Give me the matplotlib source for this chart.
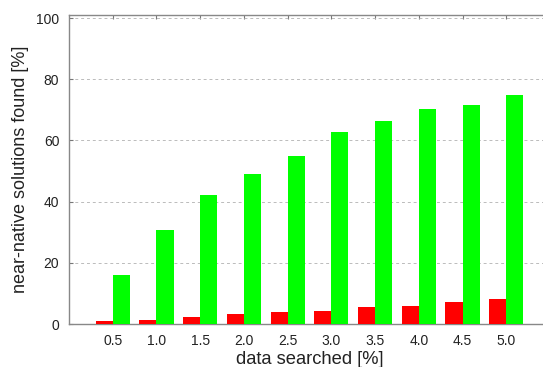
import matplotlib
matplotlib.use("Agg")
import matplotlib.pyplot as plt
import numpy as np

plt.rcParams["font.family"] = ["Liberation Sans", "DejaVu Sans"]

# percentage of the data searched, one bar group per step
categories = ["0.5", "1.0", "1.5", "2.0", "2.5", "3.0", "3.5", "4.0", "4.5", "5.0"]
red_values = [1.0, 1.4, 2.4, 3.3, 3.9, 4.4, 5.4, 5.8, 7.3, 8.1]
green_values = [16.0, 30.6, 42.1, 49.0, 54.8, 62.8, 66.3, 70.2, 71.7, 74.8]

fig = plt.figure(figsize=(5.43, 3.67), dpi=100)
# axes run a little past the right edge of the figure
ax = fig.add_axes([69 / 543, 1 - 324 / 367, 481 / 543, 309 / 367])

x = np.arange(1, len(categories) + 1)
w = 0.39
ax.bar(x - w / 2, red_values, width=w, color="#ff0000", zorder=3)
ax.bar(x + w / 2, green_values, width=w, color="#00ff00", zorder=3)

ax.set_xlim(0, 11)
ax.set_ylim(0, 101)
ax.set_xticks(x)
ax.set_xticklabels(categories)
ax.set_yticks([0, 20, 40, 60, 80, 100])

ax.grid(axis="y", color="#bbbbbb", linestyle=(0, (3, 3)), linewidth=0.7, zorder=0)
for s in ax.spines.values():
    s.set_color("#888888")
    s.set_linewidth(1.0)
ax.spines["right"].set_visible(False)

ax.tick_params(direction="in", length=3, color="#777777", top=True,
               labelsize=10, labelcolor="#222222", pad=7)

ax.set_xlabel("data searched [%]", fontsize=13.2, color="#222222", labelpad=2)
ax.set_ylabel("near-native solutions found [%]", fontsize=13, color="#222222",
              labelpad=5)

fig.savefig("out.png", dpi=100)
